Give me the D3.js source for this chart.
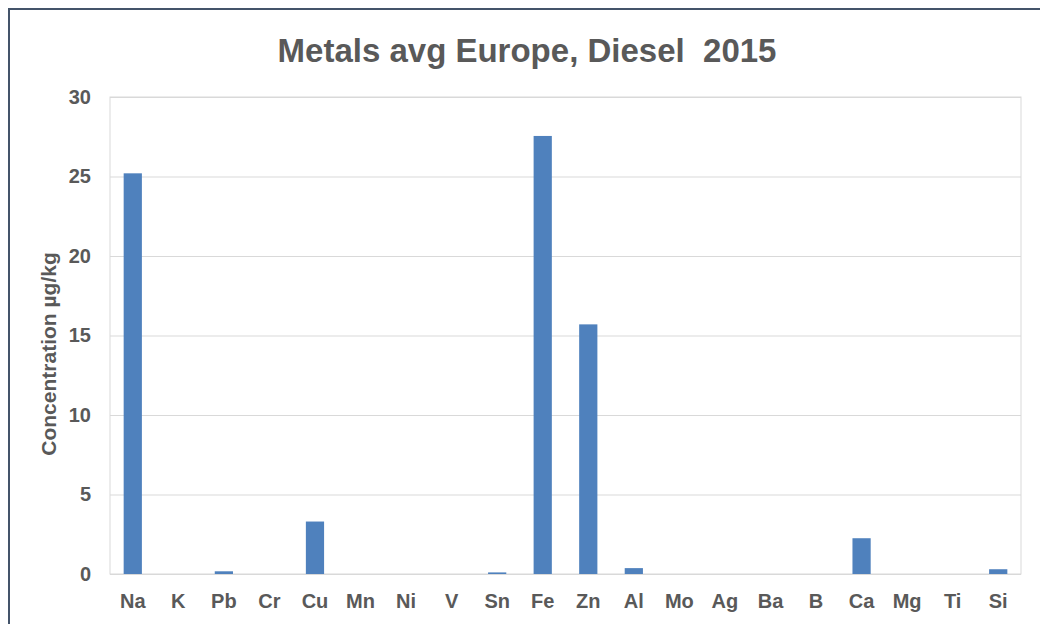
<!DOCTYPE html>
<html>
<head>
<meta charset="utf-8">
<script src="https://cdn.jsdelivr.net/npm/d3@7"></script>
<style>
  html, body { margin: 0; padding: 0; background: #fff; }
  svg { display: block; font-family: "Liberation Sans", Arial, sans-serif; }
</style>
</head>
<body>
<svg></svg>
<script>
var metals = ['Na', 'K', 'Pb', 'Cr', 'Cu', 'Mn', 'Ni', 'V', 'Sn', 'Fe', 'Zn', 'Al', 'Mo', 'Ag', 'Ba', 'B', 'Ca', 'Mg', 'Ti', 'Si'];
var concentration = [25.2, 0, 0.17, 0, 3.3, 0, 0, 0, 0.1, 27.55, 15.7, 0.37, 0, 0, 0, 0, 2.25, 0, 0, 0.3];
var yTicks = [0, 5, 10, 15, 20, 25, 30];

(function(window, d3) {

	var w = 1040, h = 624;
	var margin = {left: 110, right: 19, top: 97, bottom: 50};

	var svg = d3.select('svg').attr('width', w).attr('height', h);

	// chart frame, runs past the bottom and right of the picture
	svg.append('rect')
		.attr('x', 9).attr('y', 9)
		.attr('width', w + 20).attr('height', h + 20)
		.attr('fill', '#fff')
		.attr('stroke', '#44546a').attr('stroke-width', 2);

	var x = d3.scaleBand()
		.domain(metals)
		.range([margin.left, w - margin.right])
		.paddingInner(0.6).paddingOuter(0.3);

	var y = d3.scaleLinear()
		.domain([0, 30])
		.range([h - margin.bottom, margin.top]);

	// gridlines
	svg.append('g')
		.attr('transform', 'translate(' + margin.left + ',0)')
		.call(d3.axisLeft(y).tickValues(yTicks).tickSize(-(w - margin.right - margin.left)).tickFormat(''))
		.call(function(g) {
			g.select('.domain').remove();
			g.selectAll('line').attr('stroke', '#d9d9d9').attr('stroke-width', 1);
		});

	// plot area border
	svg.append('rect')
		.attr('x', margin.left).attr('y', margin.top)
		.attr('width', w - margin.right - margin.left)
		.attr('height', h - margin.bottom - margin.top)
		.attr('fill', 'none')
		.attr('stroke', '#d9d9d9').attr('stroke-width', 1);

	svg.append('g')
		.selectAll('rect')
		.data(concentration)
		.enter().append('rect')
			.attr('x', function(d, i) { return x(metals[i]); })
			.attr('y', function(d) { return y(d); })
			.attr('width', x.bandwidth())
			.attr('height', function(d) { return y(0) - y(d); })
			.attr('fill', '#4f81bd');

	// y axis labels
	svg.append('g')
		.attr('transform', 'translate(' + margin.left + ',0)')
		.call(d3.axisLeft(y).tickValues(yTicks).tickSize(0).tickPadding(19))
		.call(function(g) {
			g.select('.domain').remove();
			g.selectAll('text')
				.attr('font-family', '"Liberation Sans", Arial, sans-serif')
				.attr('font-size', 20).attr('font-weight', 'bold')
				.attr('fill', '#595959');
		});

	// x axis labels
	svg.append('g')
		.attr('transform', 'translate(0,' + (h - margin.bottom) + ')')
		.call(d3.axisBottom(x).tickSize(0).tickPadding(20))
		.call(function(g) {
			g.select('.domain').remove();
			g.selectAll('text')
				.attr('font-family', '"Liberation Sans", Arial, sans-serif')
				.attr('font-size', 20).attr('font-weight', 'bold')
				.attr('fill', '#595959');
		});

	svg.append('text')
		.attr('x', 527).attr('y', 62)
		.attr('text-anchor', 'middle')
		.attr('font-size', 33).attr('font-weight', 'bold')
		.attr('fill', '#595959')
		.attr('xml:space', 'preserve')
		.text('Metals avg Europe, Diesel  2015');

	svg.append('text')
		.attr('transform', 'translate(56,' + 354 + ') rotate(-90)')
		.attr('text-anchor', 'middle')
		.attr('font-size', 21).attr('font-weight', 'bold')
		.attr('fill', '#595959')
		.text('Concentration µg/kg');

})(window, d3);
</script>
</body>
</html>
